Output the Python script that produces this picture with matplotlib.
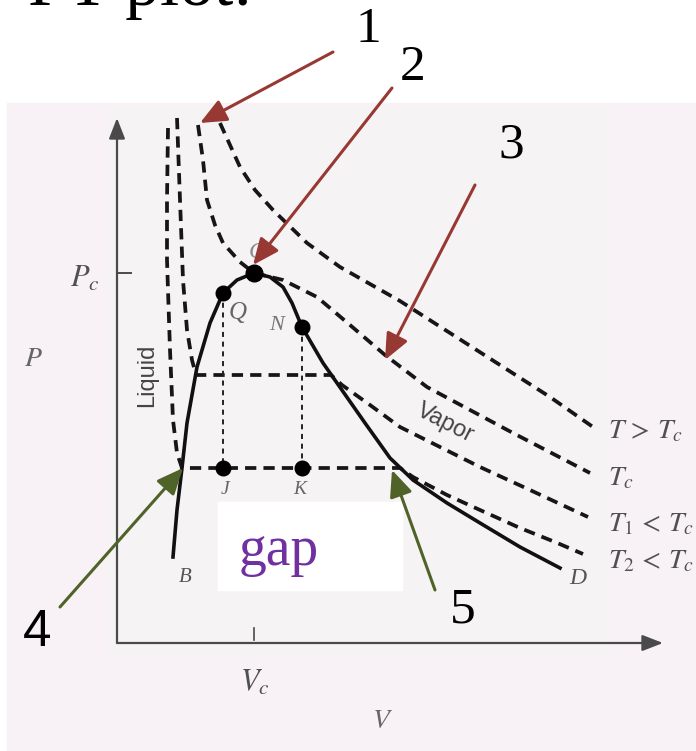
import matplotlib
matplotlib.use('Agg')
import matplotlib.pyplot as plt
from matplotlib.patches import Rectangle

plt.rcParams['mathtext.fontset'] = 'stix'

# diagram units: V to the right of the P axis, P above the V axis
Vc, Pc = 137, 370

# saturation dome (B -> C -> D)
dome_v = [56, 60, 65, 70, 80, 93, 106, 120, 137, 153, 166, 175, 185, 206, 220, 248, 273, 296, 330, 363, 403, 443]
dome_p = [86, 133, 175, 220, 276, 320, 350, 363, 370, 366, 356, 340, 316, 280, 260, 220, 185, 163, 140, 120, 96, 75]

# isotherms
iso_hot_v = [103, 113, 123, 138, 156, 190, 223, 283, 333, 383, 433, 476]
iso_hot_p = [520, 498, 476, 453, 433, 400, 376, 342, 310, 278, 246, 216]

iso_c_v = [81, 86, 90, 98, 106, 123, 137, 166, 200, 233, 268, 310, 353, 396, 473]
iso_c_p = [518, 483, 443, 418, 400, 381, 370, 363, 346, 318, 288, 256, 233, 210, 170]

iso_1_v = [60, 63, 66, 70, 75, 79, 214, 225, 253, 283, 323, 363, 413, 471]
iso_1_p = [525, 443, 363, 313, 283, 268, 268, 258, 238, 216, 196, 176, 153, 126]

iso_2_v = [51, 50, 50, 53, 56, 60, 65, 283, 296, 330, 363, 403, 438, 466]
iso_2_p = [515, 443, 383, 293, 223, 190, 175, 175, 166, 148, 133, 115, 101, 89]

iso_labels = [r'$T\,>\,T_c$', r'$T_c$', r'$T_1\,<\,T_c$', r'$T_2\,<\,T_c$']
iso_label_p = [213, 166, 120, 83]

# marked states
state_names = ['C', 'Q', 'N', 'J', 'K']
state_v = [137, 106, 185, 106, 185]
state_p = [370, 350, 316, 175, 175]

# numbered callouts: (label, tail, head)
callout_names = ['1', '2', '3', '4', '5']
callout_text = [(251, 613), (296, 575), (394, 498), (-80, 10), (346, 33)]
callout_tail = [(216, 591), (275, 555), (358, 458), (-57, 36), (318, 53)]
callout_head = [(83, 520), (136, 378), (268, 283), (66, 175), (275, 173)]
callout_color = ['#973833', '#973833', '#973833', '#4f6228', '#4f6228']

fig = plt.figure(figsize=(6.96, 7.51), dpi=100)
ax = fig.add_axes([0, 0, 1, 1])
ax.set_xlim(-117, 579)
ax.set_ylim(-108, 643)
ax.axis('off')

# slide panel
ax.add_patch(Rectangle((-110, -108), 700, 648, color='#f8f1f5', zorder=0))
ax.add_patch(Rectangle((-8, -14), 500, 550, color='#f6f3f5', zorder=0))

ax.text(-89, 638, 'PT plot:', fontsize=50, family='Liberation Serif',
        ha='left', va='baseline', color='black')

# axes with arrow heads
ink = '#4a4a4a'
ax.annotate('', xy=(0, 525), xytext=(0, 0),
            arrowprops=dict(arrowstyle='-|>,head_length=0.9,head_width=0.35', color=ink,
                            lw=1.6, shrinkA=0, shrinkB=0, mutation_scale=14))
ax.annotate('', xy=(546, 0), xytext=(0, 0),
            arrowprops=dict(arrowstyle='-|>,head_length=0.9,head_width=0.35', color=ink,
                            lw=1.6, shrinkA=0, shrinkB=0, mutation_scale=14))
ax.plot([0, 14], [Pc, Pc], color=ink, lw=1.4)
ax.plot([Vc, Vc], [3, 15], color=ink, lw=1.2)

lab = '#505050'
ax.text(-32, Pc - 5, r'$P_c$', fontsize=22, color=lab, ha='center', va='center')
ax.text(-84, 285, r'$P$', fontsize=20, color='#666666', ha='center', va='center')
ax.text(Vc + 1, -39, r'$V_c$', fontsize=22, color=lab, ha='center', va='center')
ax.text(266, -77, r'$V$', fontsize=20, color='#666666', ha='center', va='center')

# isotherms
dash = dict(color='#161616', lw=2.7, linestyle=(0, (3.0, 1.9)), zorder=3)
for v, p in [(iso_hot_v, iso_hot_p), (iso_c_v, iso_c_p), (iso_1_v, iso_1_p), (iso_2_v, iso_2_p)]:
    ax.plot(v, p, **dash)
for txt, yp in zip(iso_labels, iso_label_p):
    ax.text(491, yp, txt, fontsize=20, color=lab, ha='left', va='center')

# saturation dome
ax.plot(dome_v, dome_p, color='#111111', lw=2.6, zorder=4)

# constant-volume guides Q-J and N-K
for i, j in [(1, 3), (2, 4)]:
    ax.plot([state_v[i], state_v[j]], [state_p[i], state_p[j]], color='#222222', lw=1.4,
            linestyle=(0, (2.6, 2.4)), zorder=3)
sizes = [12, 10.5, 10.5, 10.5, 10.5]
for v, p, s in zip(state_v, state_p, sizes):
    ax.plot(v, p, 'o', color='black', ms=s, zorder=5)

serif_it = dict(family='Liberation Serif', style='italic', ha='center', va='center')
ax.text(140, 391, 'C', fontsize=17, color='#8a8a8a', **serif_it)
ax.text(121, 330, 'Q', fontsize=18, color='#666666', **serif_it)
ax.text(160, 318, 'N', fontsize=16, color='#777777', **serif_it)
ax.text(108, 153, 'J', fontsize=14, color='#666666', **serif_it)
ax.text(183, 153, 'K', fontsize=14, color='#666666', **serif_it)
ax.text(68, 66, 'B', fontsize=15, color='#555555', **serif_it)
ax.text(461, 65, 'D', fontsize=17, color='#555555', **serif_it)

ax.text(30, 268, 'Liquid', fontsize=17, family='Liberation Sans', color='#444444',
        rotation=90, ha='center', va='center')
ax.text(328, 220, 'Vapor', fontsize=17, family='Liberation Sans', color='#444444',
        rotation=-27, ha='center', va='center', rotation_mode='anchor')

# gap box
ax.add_patch(Rectangle((101, 53), 184, 88, color='white', zorder=6))
ax.text(162, 78, 'gap', fontsize=40, family='Liberation Serif', color='#7030a0',
        ha='center', va='baseline', zorder=7)

# numbered callouts
for name, tpos, tail, head, col in zip(callout_names, callout_text, callout_tail,
                                       callout_head, callout_color):
    ax.annotate('', xy=head, xytext=tail,
                arrowprops=dict(arrowstyle='-|>,head_length=0.8,head_width=0.35', color=col,
                                lw=2.2, shrinkA=0, shrinkB=0, mutation_scale=20), zorder=8)
    fam = 'Liberation Sans' if name == '4' else 'Liberation Serif'
    ax.text(tpos[0], tpos[1], name, fontsize=37, family=fam, color='black',
            ha='center', va='center', zorder=8)

fig.savefig('out.png', dpi=100)
